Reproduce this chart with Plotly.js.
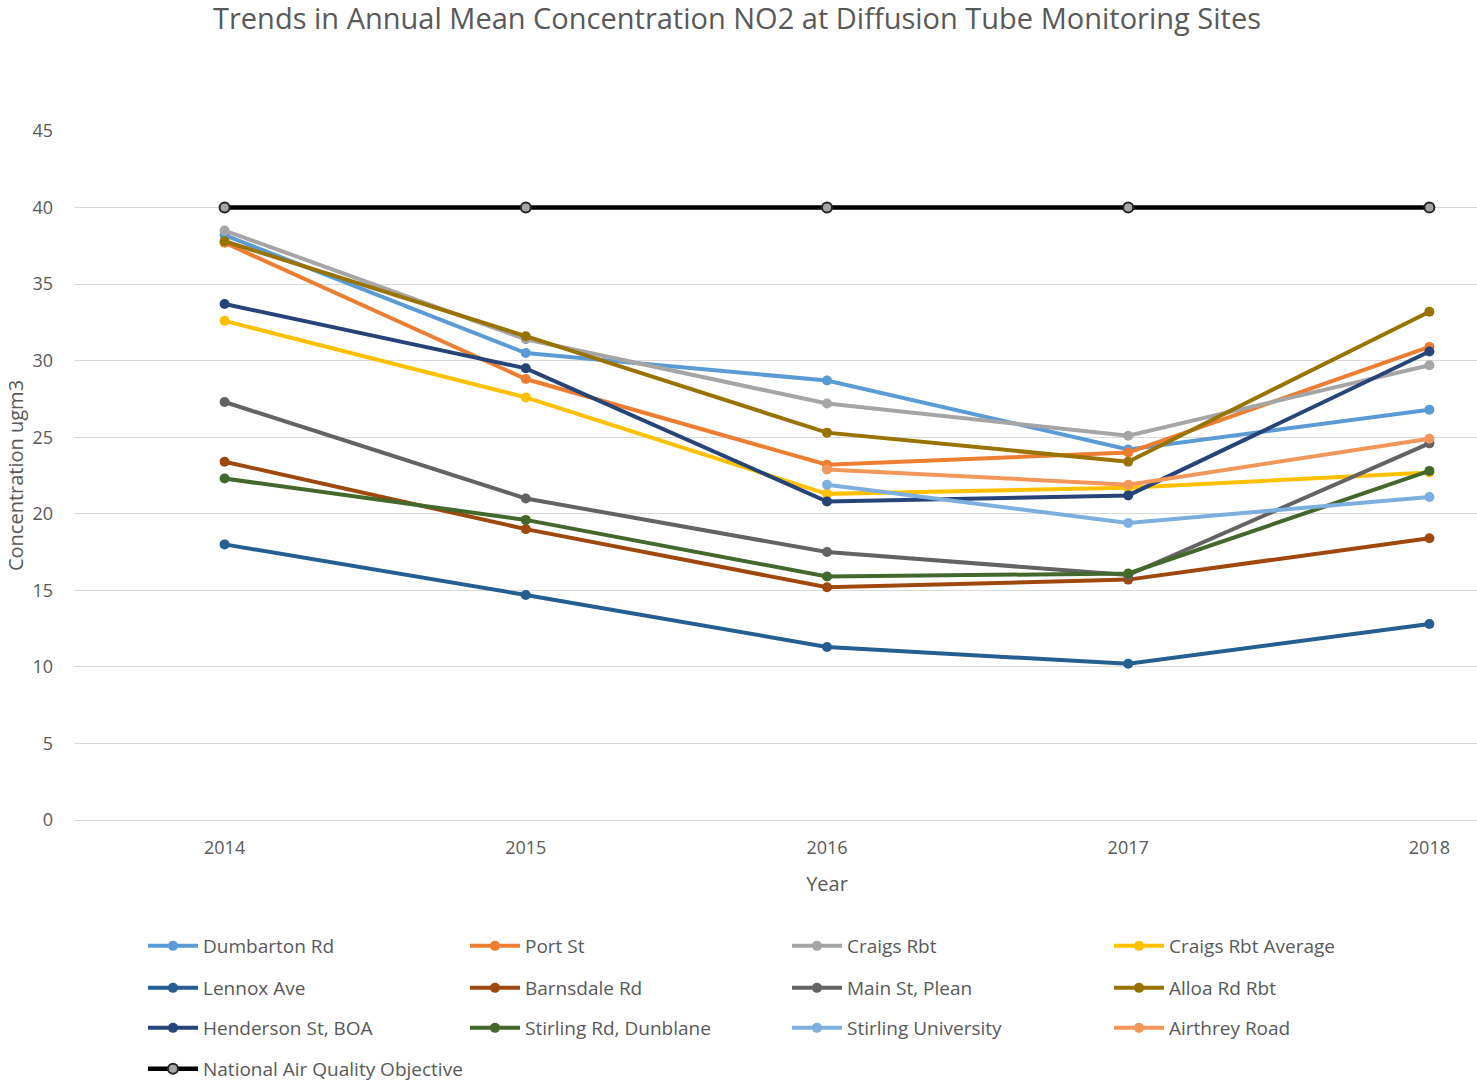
<!DOCTYPE html>
<html>
<head>
<meta charset="utf-8">
<script src="https://cdn.plot.ly/plotly-3.0.1.min.js"></script>
<style>
  html, body { margin: 0; padding: 0; background: #ffffff; }
  #wrap { width: 1477px; height: 1084px; overflow: hidden; position: relative; }
  #chart { width: 1580px; height: 1096px; }
</style>
</head>
<body>
<div id="wrap"><div id="chart"></div></div>
<script>
// ---- data ----
const years = [2014, 2015, 2016, 2017, 2018];
const yearLabels = ["2014", "2015", "2016", "2017", "2018"];

const seriesNames = [
  "Dumbarton Rd", "Port St", "Craigs Rbt", "Craigs Rbt Average",
  "Lennox Ave", "Barnsdale Rd", "Main St, Plean", "Alloa Rd Rbt",
  "Henderson St, BOA", "Stirling Rd, Dunblane", "Stirling University", "Airthrey Road",
  "National Air Quality Objective"
];

const dumbartonRd   = [38.2, 30.5, 28.7, 24.2, 26.8];
const portSt        = [37.7, 28.8, 23.2, 24.0, 30.9];
const craigsRbt     = [38.5, 31.4, 27.2, 25.1, 29.7];
const craigsRbtAvg  = [32.6, 27.6, 21.3, 21.7, 22.7];
const lennoxAve     = [18.0, 14.7, 11.3, 10.2, 12.8];
const barnsdaleRd   = [23.4, 19.0, 15.2, 15.7, 18.4];
const mainStPlean   = [27.3, 21.0, 17.5, 16.0, 24.6];
const alloaRdRbt    = [37.8, 31.6, 25.3, 23.4, 33.2];
const hendersonSt   = [33.7, 29.5, 20.8, 21.2, 30.6];
const stirlingRd    = [22.3, 19.6, 15.9, 16.1, 22.8];
const stirlingUni   = [null, null, 21.9, 19.4, 21.1];
const airthreyRoad  = [null, null, 22.9, 21.9, 24.9];
const objective     = [40, 40, 40, 40, 40];

const seriesValues = [
  dumbartonRd, portSt, craigsRbt, craigsRbtAvg,
  lennoxAve, barnsdaleRd, mainStPlean, alloaRdRbt,
  hendersonSt, stirlingRd, stirlingUni, airthreyRoad,
  objective
];

// ---- styles ----
const colors = [
  "#5B9BD5", "#ED7D31", "#A5A5A5", "#FFC000",
  "#255E91", "#9E480E", "#636363", "#997300",
  "#264478", "#43682B", "#7CAFDD", "#F1975A",
  "#000000"
];
const legendIds = [
  "legend", "legend", "legend", "legend",
  "legend2", "legend2", "legend2", "legend2",
  "legend3", "legend3", "legend3", "legend3",
  "legend4"
];

const FONT = "Open Sans, Noto Sans, sans-serif";
const TXT = "#595959";

const traces = seriesNames.map((name, i) => {
  const isObj = i === seriesNames.length - 1;
  return {
    type: "scatter",
    mode: "lines+markers",
    name: name,
    x: years,
    y: seriesValues[i],
    legend: legendIds[i],
    line: { color: colors[i], width: isObj ? 4.5 : 4 },
    marker: isObj
      ? { color: "#A6A6A6", size: 10, line: { color: "#262626", width: 2 } }
      : { color: colors[i], size: 10, line: { color: colors[i], width: 0 } },
    connectgaps: false,
    hoverinfo: "x+y+name"
  };
});

const W = 1580, H = 1096, PL = 74, PR = 0, PW = W - PL - PR;
const PT = 131, PB = H - 820, PH = H - PT - PB;
const px2x = (px) => (px - PL) / PW;
const py2y = (py) => (PT + PH - py) / PH;

function legendRow(py) {
  return {
    orientation: "h",
    x: px2x(143), xanchor: "left",
    y: py2y(py), yanchor: "middle",
    entrywidth: 257, entrywidthmode: "pixels",
    itemwidth: 50,
    font: { family: FONT, size: 19, color: TXT },
    bgcolor: "rgba(0,0,0,0)",
    traceorder: "normal",
    itemclick: false, itemdoubleclick: false
  };
}

const layout = {
  width: W,
  height: H,
  margin: { l: PL, r: PR, t: PT, b: PB, pad: 0 },
  paper_bgcolor: "#ffffff",
  plot_bgcolor: "#ffffff",
  font: { family: FONT, size: 18, color: TXT },
  title: {
    text: "Trends in Annual Mean Concentration NO2 at Diffusion Tube Monitoring Sites",
    font: { family: FONT, size: 29, color: TXT },
    x: 737 / W, xref: "container", xanchor: "center",
    y: 1 - 19 / H, yref: "container", yanchor: "middle"
  },
  xaxis: {
    range: [2013.5, 2018.5],
    tickmode: "array",
    tickvals: years,
    ticktext: yearLabels,
    showgrid: false,
    zeroline: false,
    showline: true,
    linecolor: "#D9D9D9",
    linewidth: 1,
    ticks: "",
    ticklabelstandoff: 11,
    tickfont: { family: FONT, size: 18, color: TXT },
    title: { text: "Year", font: { family: FONT, size: 20, color: TXT }, standoff: 19 },
    automargin: false,
    fixedrange: true
  },
  yaxis: {
    range: [0, 45],
    tickmode: "linear",
    tick0: 0,
    dtick: 5,
    showgrid: true,
    gridcolor: "#D9D9D9",
    gridwidth: 1,
    zeroline: false,
    showline: false,
    ticks: "",
    ticklabelstandoff: 20,
    tickfont: { family: FONT, size: 18, color: TXT },
    title: { text: "Concentration ugm3", font: { family: FONT, size: 20, color: TXT }, standoff: 3 },
    automargin: false,
    fixedrange: true
  },
  showlegend: true,
  legend: legendRow(946),
  legend2: legendRow(988),
  legend3: legendRow(1028),
  legend4: legendRow(1069)
};

Plotly.newPlot("chart", traces, layout, { displayModeBar: false, staticPlot: false, responsive: false });
</script>
</body>
</html>
